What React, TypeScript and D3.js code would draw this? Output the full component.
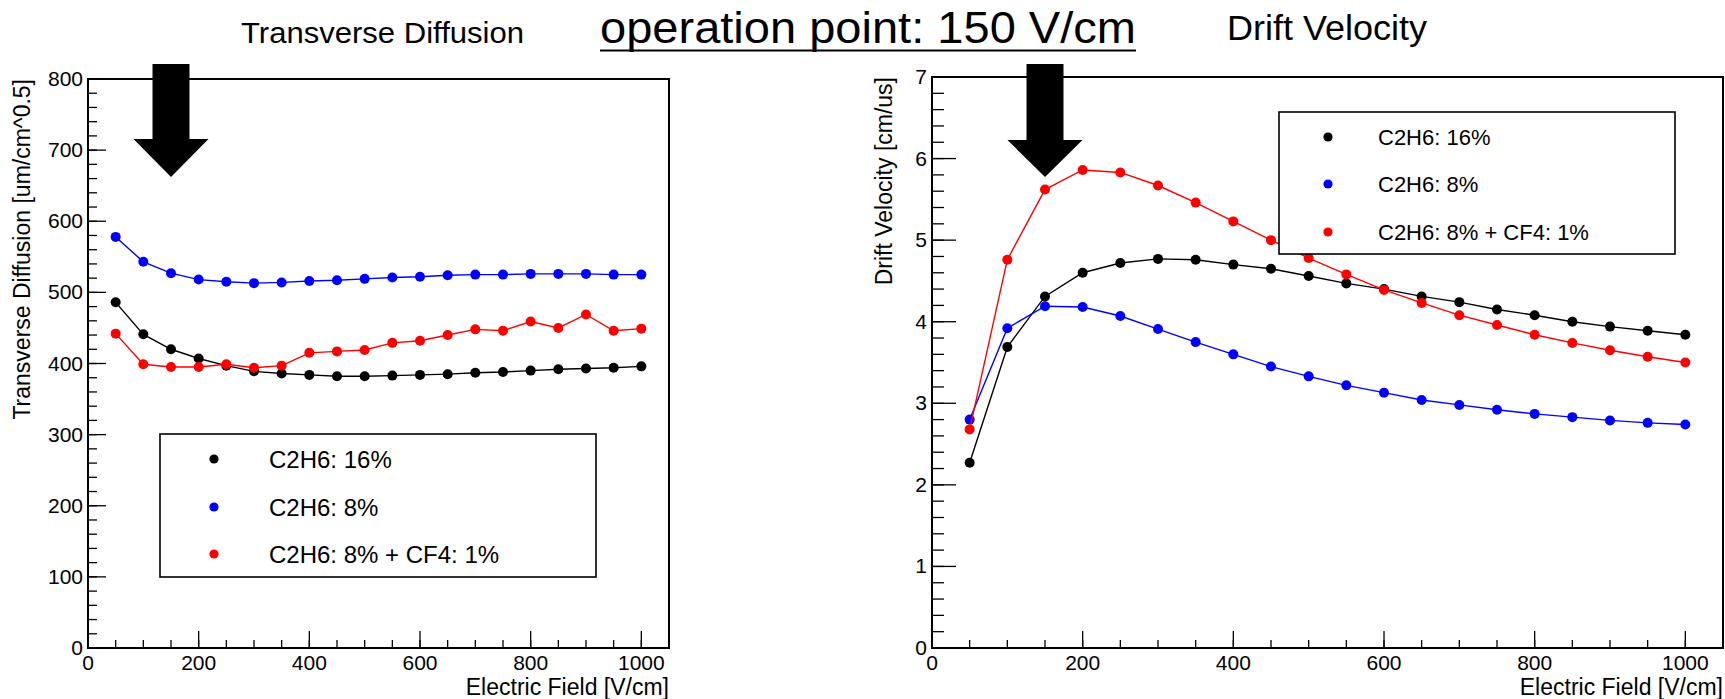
import React from 'react';
import * as d3 from 'd3';

// ---------- data ----------
const electricField = [50, 100, 150, 200, 250, 300, 350, 400, 450, 500, 550, 600, 650, 700, 750, 800, 850, 900, 950, 1000];

const diffC2H6_16 = [486, 441, 420, 407, 397, 389, 386, 384, 382, 382, 383, 384, 385, 387, 388, 390, 392, 393, 394, 396];
const diffC2H6_8 = [578, 543, 527, 518, 515, 513, 514, 516, 517, 519, 521, 522, 524, 525, 525, 526, 526, 526, 525, 525];
const diffC2H6_8_CF4 = [442, 399, 395, 395, 399, 394, 397, 415, 417, 419, 429, 432, 440, 448, 446, 459, 450, 469, 446, 449];

const velC2H6_16 = [2.27, 3.69, 4.31, 4.6, 4.72, 4.77, 4.76, 4.7, 4.65, 4.56, 4.47, 4.4, 4.31, 4.24, 4.15, 4.08, 4.0, 3.94, 3.89, 3.84];
const velC2H6_8 = [2.8, 3.92, 4.19, 4.18, 4.07, 3.91, 3.75, 3.6, 3.45, 3.33, 3.22, 3.13, 3.04, 2.98, 2.92, 2.87, 2.83, 2.79, 2.76, 2.74];
const velC2H6_8_CF4 = [2.68, 4.76, 5.62, 5.86, 5.83, 5.67, 5.46, 5.23, 5.0, 4.78, 4.58, 4.39, 4.23, 4.08, 3.96, 3.84, 3.74, 3.65, 3.57, 3.5];

const seriesLabels = ['C2H6: 16%', 'C2H6: 8%', 'C2H6: 8% + CF4: 1%'];
const seriesColors = ['#000000', '#0000ff', '#ff0000'];

const xTickValues = [0, 200, 400, 600, 800, 1000];
const diffusionTickValues = [0, 100, 200, 300, 400, 500, 600, 700, 800];
const velocityTickValues = [0, 1, 2, 3, 4, 5, 6, 7];

const operationPoint = 150;
const headline = 'operation point: 150 V/cm';

const FONT = '"Liberation Sans", Arial, Helvetica, sans-serif';

type PanelProps = {
  left: number; right: number; top: number; bottom: number;
  xMax: number; yMax: number;
  yTicks: number[]; yMinorStep: number; xMinorStep: number;
  yMajorLen: number; yMinorLen: number;
  series: number[][];
  yTitle: string; yTitleX: number;
  title: string; titleX: number; titleW: number; titleY: number; titleSize: number;
  legend: { x0: number; x1: number; y0: number; y1: number; mx: number; tx: number; rows: number[]; size: number };
  arrowTop: number; arrowHeadTop: number; arrowTip: number;
};

function Panel(p: PanelProps) {
  const x = d3.scaleLinear().domain([0, p.xMax]).range([p.left, p.right]);
  const y = d3.scaleLinear().domain([0, p.yMax]).range([p.bottom, p.top]);
  const line = d3.line<[number, number]>().x(d => x(d[0])).y(d => y(d[1]));
  const xMinor = d3.range(0, 1000 + 1e-9, p.xMinorStep);
  const yMinor = d3.range(0, p.yMax + 1e-9, p.yMinorStep);
  const ac = x(operationPoint);
  const sw = 18.5, hw = 37.5;
  const arrow = [
    [ac - sw, p.arrowTop], [ac + sw, p.arrowTop], [ac + sw, p.arrowHeadTop], [ac + hw, p.arrowHeadTop],
    [ac, p.arrowTip], [ac - hw, p.arrowHeadTop], [ac - sw, p.arrowHeadTop],
  ].map(q => q.join(',')).join(' ');
  const fmt = (v: number) => String(v);
  return (
    <g fontFamily={FONT}>
      <text x={p.titleX} y={p.titleY} fontSize={p.titleSize} textLength={p.titleW} lengthAdjust="spacingAndGlyphs">{p.title}</text>
      {xMinor.map(v => (
        <line key={'xm' + v} x1={x(v)} x2={x(v)} y1={p.bottom} y2={p.bottom - 8} stroke="#000" strokeWidth={1.3} />
      ))}
      {xTickValues.map(v => (
        <line key={'xM' + v} x1={x(v)} x2={x(v)} y1={p.bottom} y2={p.bottom - 17} stroke="#000" strokeWidth={1.3} />
      ))}
      {yMinor.map(v => (
        <line key={'ym' + v} x1={p.left} x2={p.left + p.yMinorLen} y1={y(v)} y2={y(v)} stroke="#000" strokeWidth={1.3} />
      ))}
      {p.yTicks.map(v => (
        <line key={'yM' + v} x1={p.left} x2={p.left + p.yMajorLen} y1={y(v)} y2={y(v)} stroke="#000" strokeWidth={1.3} />
      ))}
      <rect x={p.left} y={p.top} width={p.right - p.left} height={p.bottom - p.top} fill="none" stroke="#000" strokeWidth={2} />
      {xTickValues.map(v => (
        <text key={'xl' + v} x={x(v)} y={p.bottom + 22} fontSize={21} textAnchor="middle">{fmt(v)}</text>
      ))}
      {p.yTicks.map(v => (
        <text key={'yl' + v} x={p.left - 5} y={y(v) + 7} fontSize={21} textAnchor="end">{fmt(v)}</text>
      ))}
      <text x={p.right} y={695} fontSize={23} textAnchor="end">Electric Field [V/cm]</text>
      <text transform={`translate(${p.yTitleX},${p.top}) rotate(-90)`} fontSize={23} textAnchor="end">{p.yTitle}</text>
      {p.series.map((vals, i) => {
        const pts = electricField.map((f, k) => [f, vals[k]] as [number, number]);
        return (
          <g key={'s' + i}>
            <path d={line(pts) || ''} fill="none" stroke={seriesColors[i]} strokeWidth={1.4} />
            {pts.map((q, k) => (
              <circle key={k} cx={x(q[0])} cy={y(q[1])} r={5} fill={seriesColors[i]} />
            ))}
          </g>
        );
      })}
      <rect x={p.legend.x0} y={p.legend.y0} width={p.legend.x1 - p.legend.x0} height={p.legend.y1 - p.legend.y0} fill="#fff" stroke="#000" strokeWidth={1.6} />
      {seriesLabels.map((lab, i) => (
        <g key={'lg' + i}>
          <circle cx={p.legend.mx} cy={p.legend.rows[i]} r={4.6} fill={seriesColors[i]} />
          <text x={p.legend.tx} y={p.legend.rows[i] + p.legend.size * 0.36} fontSize={p.legend.size}>{lab}</text>
        </g>
      ))}
      <polygon points={arrow} fill="#000" />
    </g>
  );
}

export default function App() {
  return (
    <svg width={1725} height={699} style={{ position: 'absolute', left: 0, top: 0, background: '#fff' }}>
      <rect width={1725} height={699} fill="#fff" />
      <Panel
        left={88} right={669} top={79} bottom={648}
        xMax={1050} yMax={800}
        yTicks={diffusionTickValues} yMinorStep={20} xMinorStep={50}
        yMajorLen={18} yMinorLen={9}
        series={[diffC2H6_16, diffC2H6_8, diffC2H6_8_CF4]}
        yTitle="Transverse Diffusion [um/cm^0.5]" yTitleX={30}
        title="Transverse Diffusion" titleX={241} titleW={283} titleY={43} titleSize={30}
        legend={{ x0: 160, x1: 596, y0: 434, y1: 577, mx: 214, tx: 269, rows: [459, 507, 554], size: 24 }}
        arrowTop={64} arrowHeadTop={139} arrowTip={177}
      />
      <Panel
        left={932} right={1723} top={77} bottom={648}
        xMax={1050} yMax={7}
        yTicks={velocityTickValues} yMinorStep={0.2} xMinorStep={50}
        yMajorLen={24} yMinorLen={12}
        series={[velC2H6_16, velC2H6_8, velC2H6_8_CF4]}
        yTitle="Drift Velocity [cm/us]" yTitleX={892}
        title="Drift Velocity" titleX={1227} titleW={200} titleY={40} titleSize={35}
        legend={{ x0: 1279, x1: 1675, y0: 112, y1: 254, mx: 1328, tx: 1378, rows: [137, 184, 232], size: 22 }}
        arrowTop={64} arrowHeadTop={140} arrowTip={177}
      />
      <text x={600} y={43} fontFamily={FONT} fontSize={45} textLength={536} lengthAdjust="spacingAndGlyphs">{headline}</text>
      <line x1={600} x2={1136} y1={50.5} y2={50.5} stroke="#000" strokeWidth={2.2} />
    </svg>
  );
}
